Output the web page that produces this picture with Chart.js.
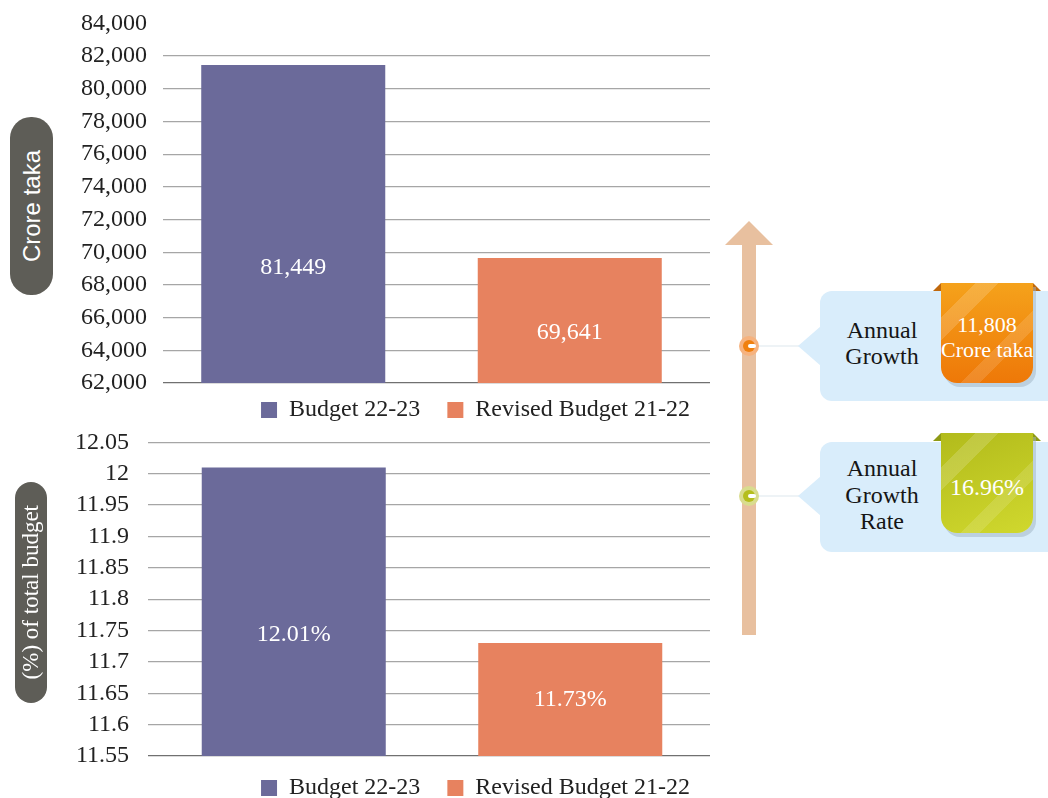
<!DOCTYPE html>
<html>
<head>
<meta charset="utf-8">
<script src="https://cdn.jsdelivr.net/npm/chart.js@4.4.0/dist/chart.umd.min.js"></script>
<style>
  body { margin: 0; width: 1048px; height: 798px; overflow: hidden; background: #fff; position: relative; font-family: "Liberation Serif", serif; }
  canvas { position: absolute; left: 0; }
  #amountChart { top: -7px; }
  #shareChart { top: 409px; }
  .pill { position: absolute; background: #5e5d57; color: #fff; display: flex; align-items: center; justify-content: center; }
  .pill span { writing-mode: vertical-rl; transform: rotate(180deg); white-space: nowrap; }
  .abs { position: absolute; }
  .shaft { left: 742px; top: 244px; width: 14px; height: 391px; background: #e8c09f; }
  .head { left: 725px; top: 221px; width: 0; height: 0; border-left: 24px solid transparent; border-right: 24px solid transparent; border-bottom: 24px solid #e8c09f; }
  .dot { width: 20px; height: 20px; border-radius: 50%; }
  .dot i { position: absolute; left: 4px; top: 4px; width: 12px; height: 12px; border-radius: 50%; }
  .dot b { position: absolute; left: 9px; top: 8px; width: 8px; height: 4px; border-radius: 2px; background: #fff; }
  .wire { height: 2px; background: #eef3f6; }
  .box { background: #d9edfb; border-radius: 12px; }
  .tip { width: 0; height: 0; border-top: 20px solid transparent; border-bottom: 20px solid transparent; border-right: 23px solid #d9edfb; }
  .lbl { width: 124px; text-align: center; font-size: 24px; color: #151515; }
  .badge { width: 92px; height: 100px; border-radius: 0 0 16px 16px; color: #fff; text-align: center; white-space: nowrap; box-shadow: 3px 4px 0 rgba(160, 180, 196, 0.5); }
  .ear { width: 0; height: 0; }
</style>
</head>
<body>
<canvas id="amountChart" width="720" height="439"></canvas>
<canvas id="shareChart" width="720" height="396"></canvas>

<div class="pill" style="left:10px;top:117px;width:43px;height:178px;border-radius:21px;font:24px 'Liberation Sans',sans-serif;"><span>Crore taka</span></div>
<div class="pill" style="left:15px;top:482px;width:32px;height:221px;border-radius:16px;font:23px 'Liberation Serif',serif;"><span>(%) of total budget</span></div>

<!-- стрелка и выноски -->
<div class="abs shaft"></div>
<div class="abs head"></div>

<div class="abs wire" style="left:757px;top:345px;width:45px;"></div>
<div class="abs wire" style="left:757px;top:495px;width:45px;"></div>
<div class="abs dot" style="left:739px;top:336px;background:#f6b27e;"><i style="background:#f0800e;"></i><b></b></div>
<div class="abs dot" style="left:739px;top:486px;background:#d9dc8e;"><i style="background:#b5be1e;"></i><b></b></div>

<div class="abs box" style="left:820px;top:291px;width:240px;height:110px;"></div>
<div class="abs tip" style="left:798px;top:326px;"></div>
<div class="abs lbl" style="left:820px;top:317px;line-height:26px;">Annual<br>Growth</div>
<div class="abs ear" style="left:933px;top:283px;border-bottom:8px solid #c0680c;border-left:8px solid transparent;"></div>
<div class="abs ear" style="left:1033px;top:283px;border-bottom:8px solid #c0680c;border-right:8px solid transparent;"></div>
<div class="abs badge" id="growthBadge" style="left:941px;top:283px;font-size:22px;line-height:25px;
  background: linear-gradient(135deg, rgba(255,255,255,0) 18%, rgba(255,255,255,.16) 18%, rgba(255,255,255,.16) 30%, rgba(255,255,255,0) 30%, rgba(255,255,255,0) 62%, rgba(255,255,255,.13) 62%, rgba(255,255,255,.13) 72%, rgba(255,255,255,0) 72%), linear-gradient(180deg, #f5a21b, #ee7808);"></div>

<div class="abs box" style="left:820px;top:442px;width:240px;height:110px;"></div>
<div class="abs tip" style="left:798px;top:476px;"></div>
<div class="abs lbl" style="left:820px;top:455px;line-height:26.5px;">Annual<br>Growth<br>Rate</div>
<div class="abs ear" style="left:933px;top:433px;border-bottom:8px solid #8e9a14;border-left:8px solid transparent;"></div>
<div class="abs ear" style="left:1033px;top:433px;border-bottom:8px solid #8e9a14;border-right:8px solid transparent;"></div>
<div class="abs badge" id="rateBadge" style="left:941px;top:433px;font-size:24px;line-height:108px;
  background: linear-gradient(135deg, rgba(255,255,255,0) 18%, rgba(255,255,255,.16) 18%, rgba(255,255,255,.16) 30%, rgba(255,255,255,0) 30%, rgba(255,255,255,0) 62%, rgba(255,255,255,.13) 62%, rgba(255,255,255,.13) 72%, rgba(255,255,255,0) 72%), linear-gradient(160deg, #b2bb1b, #d0d82e);"></div>

<script>
// Данные
const seriesLabels = ['Budget 22-23', 'Revised Budget 21-22'];
const seriesColors = ['#6b6a9a', '#e7825f'];
const amountValues = [81449, 69641];      // крор така
const shareValues = [12.01, 11.73];       // % от общего бюджета
const amountTicks = [62000, 64000, 66000, 68000, 70000, 72000, 74000, 76000, 78000, 80000, 82000, 84000];
const shareTicks = [11.55, 11.6, 11.65, 11.7, 11.75, 11.8, 11.85, 11.9, 11.95, 12, 12.05];
const growthAmount = 11808;
const growthRate = '16.96%';

document.getElementById('growthBadge').innerHTML = '<div style="padding-top:29px">' + growthAmount.toLocaleString('en-US') + '<br>Crore taka</div>';
document.getElementById('rateBadge').textContent = growthRate;

const serif = 'Liberation Serif';

// подписи внутри столбцов
function barLabels(pos, fmt) {
    return {
        id: 'barLabels',
        afterDraw(chart) {
            const ctx = chart.ctx;
            const yScale = chart.scales.y;
            ctx.save();
            ctx.font = '24px "' + serif + '", serif';
            ctx.fillStyle = '#ffffff';
            ctx.textAlign = 'center';
            ctx.textBaseline = 'middle';
            chart.data.datasets.forEach((ds, i) => {
                const bar = chart.getDatasetMeta(i).data[0];
                const top = yScale.getPixelForValue(ds.data[0]);
                const base = chart.chartArea.bottom;
                const y = top + pos[i] * (base - top);
                ctx.fillText(fmt(ds.data[0]), bar.x, y);
            });
            ctx.restore();
        }
    };
}

// подгонка легенды и группы столбцов
function layoutTweaks(legendDx, legendDy, barDx) {
    return {
        id: 'layoutTweaks',
        afterLayout(chart) {
            const lg = chart.legend;
            if (lg) {
                lg.left += legendDx; lg.right += legendDx;
                lg.top += legendDy; lg.bottom += legendDy;
            }
            const xs = chart.scales.x;
            xs._startPixel += barDx;
            xs._endPixel += barDx;
        }
    };
}

function legendItems(chart) {
    const items = Chart.defaults.plugins.legend.labels.generateLabels(chart);
    items.forEach((it, i) => {
        if (i < items.length - 1) it.text += '\u2002';
        it.lineWidth = 0;
    });
    return items;
}

function makeChart(id, values, ticks, opts) {
    const ctx = document.getElementById(id).getContext('2d');
    return new Chart(ctx, {
        type: 'bar',
        data: {
            labels: [''],
            datasets: seriesLabels.map((label, i) => ({
                label: label,
                data: [values[i]],
                backgroundColor: seriesColors[i],
                borderWidth: 0,
                categoryPercentage: opts.catPct,
                barPercentage: opts.barPct
            }))
        },
        options: {
            responsive: false,
            animation: false,
            layout: { padding: { top: 0, right: 10, left: 0, bottom: 0 } },
            scales: {
                x: { display: false },
                y: {
                    min: ticks[0],
                    max: ticks[ticks.length - 1],
                    afterBuildTicks: (s) => { s.ticks = ticks.map(v => ({ value: v })); },
                    afterFit: (s) => { s.width = opts.axisWidth; },
                    border: { display: false },
                    grid: {
                        drawTicks: false,
                        lineWidth: 1.3,
                        color: (c) => {
                            if (!c.tick) return '#a6a6a6';
                            if (opts.hideTop && c.tick.value === ticks[ticks.length - 1]) return 'rgba(0,0,0,0)';
                            if (c.tick.value === ticks[0]) return '#707070';
                            return '#a6a6a6';
                        }
                    },
                    ticks: {
                        padding: opts.tickPad,
                        color: '#222',
                        font: { family: serif, size: 24 },
                        callback: opts.tickFmt
                    }
                }
            },
            plugins: {
                tooltip: { enabled: false },
                legend: {
                    position: 'bottom',
                    align: 'end',
                    labels: {
                        boxWidth: 16,
                        boxHeight: 16,
                        padding: 15,
                        color: '#222',
                        font: { family: serif, size: 24 },
                        generateLabels: legendItems
                    }
                }
            }
        },
        plugins: [barLabels(opts.labelPos, opts.labelFmt), layoutTweaks(-5, opts.legendDy, opts.barDx)]
    });
}

makeChart('amountChart', amountValues, amountTicks, {
    catPct: 1.011,
    barPct: 0.6655,
    axisWidth: 163,
    tickPad: 16,
    hideTop: true,
    legendDy: 0,
    barDx: -5,
    tickFmt: v => v.toLocaleString('en-US'),
    labelPos: [0.636, 0.6],
    labelFmt: v => v.toLocaleString('en-US')
});

makeChart('shareChart', shareValues, shareTicks, {
    catPct: 0.984,
    barPct: 0.6655,
    axisWidth: 148,
    tickPad: 19,
    hideTop: false,
    legendDy: 5,
    barDx: 3,
    tickFmt: v => String(Number(v.toFixed(2))),
    labelPos: [0.58, 0.5],
    labelFmt: v => v.toFixed(2) + '%'
});
</script>
</body>
</html>
